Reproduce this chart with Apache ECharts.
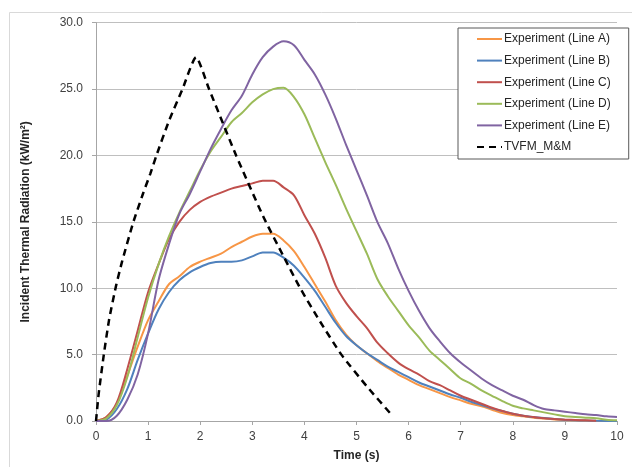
<!DOCTYPE html>
<html>
<head>
<meta charset="utf-8">
<script src="https://cdn.jsdelivr.net/npm/echarts@6/dist/echarts.min.js"></script>
<style>
html,body{margin:0;padding:0;background:#fff;}
#chart{width:632px;height:467px;}
</style>
</head>
<body>
<div id="chart"></div>
<script>
// Time samples (s) for experiment lines
const timeExp = [0,0.2,0.4,0.6,0.8,1.0,1.2,1.4,1.6,1.8,2.0,2.2,2.4,2.6,2.8,3.0,3.2,3.4,3.6,3.8,4.0,4.2,4.4,4.6,4.8,5.0,5.2,5.4,5.6,5.8,6.0,6.2,6.4,6.6,6.8,7.0,7.2,7.4,7.6,7.8,8.0,8.2,8.4,8.6,8.8,9.0,9.2,9.4,9.6,9.8,10.0];

const lineA = [0,0.3,1.3,3.4,5.6,7.6,9.0,10.3,10.9,11.6,12.0,12.3,12.6,13.1,13.5,13.9,14.1,14.1,13.6,12.8,11.6,10.3,9.0,7.6,6.5,5.7,5.1,4.5,4.0,3.5,3.1,2.7,2.4,2.1,1.8,1.55,1.3,1.1,0.85,0.6,0.45,0.35,0.25,0.18,0.12,0.08,0.05,0.02,0,0,0];
const lineB = [0,0.1,0.9,2.4,4.6,6.6,8.4,9.7,10.6,11.2,11.6,11.9,12.0,12.0,12.1,12.4,12.7,12.7,12.3,11.7,10.8,9.8,8.6,7.4,6.4,5.7,5.1,4.6,4.1,3.7,3.3,2.9,2.6,2.3,2.0,1.75,1.45,1.2,0.95,0.75,0.55,0.4,0.3,0.22,0.15,0.1,0.06,0.03,0.01,0,0];
const lineC = [0,0.3,1.4,3.9,6.8,9.7,11.8,13.7,15.0,15.9,16.5,16.9,17.2,17.5,17.7,17.9,18.1,18.1,17.6,17.0,15.5,14.1,12.3,10.2,8.9,7.9,7.0,5.9,5.1,4.4,3.9,3.5,3.0,2.7,2.3,1.9,1.6,1.3,1.0,0.75,0.55,0.4,0.3,0.2,0.15,0.1,0.08,0.05,0.02,null,null];
const lineD = [0,0.2,1.2,3.3,6.3,9.3,11.8,13.9,15.7,17.3,18.9,20.3,21.4,22.5,23.2,24.0,24.6,25.0,25.1,24.4,23.1,21.3,19.5,17.8,16.0,14.3,12.6,10.7,9.4,8.3,7.2,6.3,5.3,4.6,3.9,3.2,2.8,2.3,1.9,1.5,1.15,0.95,0.8,0.65,0.5,0.35,0.3,0.25,0.2,0.1,0.05];
const lineE = [0,0,0.4,1.6,3.5,6.6,10.6,13.3,15.6,17.1,18.8,20.5,22.0,23.4,24.5,26.1,27.4,28.2,28.6,28.3,27.2,26.1,24.6,22.8,20.8,18.9,17.0,15.0,13.4,11.5,9.8,8.3,7.0,6.0,5.1,4.4,3.8,3.2,2.7,2.3,1.9,1.6,1.2,0.9,0.8,0.7,0.6,0.5,0.45,0.35,0.3];

// TVFM_M&M model (dashed)
const timeModel = [0,0.05,0.15,0.25,0.38,0.5,0.71,0.9,1.04,1.16,1.4,1.66,1.92,2.17,2.69,3.21,3.6,3.92,4.3,4.71,5.2,5.7];
const model = [0,2,5,7.6,10.1,12.0,14.9,17.1,18.6,20,22.6,25,27.4,25,20,15.4,12.4,10,7.5,5,2.6,0.35];

const seriesNames = ['Experiment (Line A)','Experiment (Line B)','Experiment (Line C)','Experiment (Line D)','Experiment (Line E)','TVFM_M&M'];
const yTicks = [0,5,10,15,20,25,30];
const xTicks = [0,1,2,3,4,5,6,7,8,9,10];

function pairs(xs, ys){ return xs.map((x,i)=> ys[i]==null ? null : [x, ys[i]]).filter(p=>p); }

const colors = ['#F79646','#4F81BD','#C0504D','#9BBB59','#8064A2','#000000'];
const expData = [lineA, lineB, lineC, lineD, lineE];

const series = expData.map((d,i)=>({
  name: seriesNames[i], type:'line', data: pairs(timeExp, d),
  showSymbol:false, symbol:'none', smooth:0.3,
  lineStyle:{color:colors[i], width:2}, itemStyle:{color:colors[i]},
  z: 3
}));
series.push({
  name: seriesNames[5], type:'line', data: pairs(timeModel, model),
  showSymbol:false, symbol:'none', smooth:0.2,
  lineStyle:{color:'#000', width:2.5, type:[7,5]}, itemStyle:{color:'#000'},
  z: 4
});

const chart = echarts.init(document.getElementById('chart'));
chart.setOption({
  animation:false,
  backgroundColor:'#fff',
  textStyle:{fontFamily:'Liberation Sans, Arial, sans-serif'},
  graphic:[{type:'rect', shape:{x:9.5,y:12.5,width:700,height:600}, style:{fill:'none', stroke:'#d9d9d9', lineWidth:1}, z:-1}],
  grid:{left:96, right:15, top:22.7, bottom:39.3},
  legend:{
    orient:'vertical', left:458, top:28,
    padding:[5,18,6,18], itemGap:9.6, itemWidth:25, itemHeight:14,
    borderColor:'#595959', borderWidth:1, backgroundColor:'#fff',
    itemStyle:{opacity:0},
    textStyle:{fontSize:12, color:'#262626', padding:[0,0,0,-3]},
    data: seriesNames
  },
  xAxis:{
    type:'value', min:0, max:10, interval:1,
    name:'Time (s)', nameLocation:'middle', nameGap:29,
    nameTextStyle:{fontWeight:'bold', fontSize:12, color:'#262626'},
    axisLine:{show:true, lineStyle:{color:'#a6a6a6'}},
    axisTick:{show:true, length:4, lineStyle:{color:'#a6a6a6'}},
    axisLabel:{fontSize:12, color:'#404040', margin:10},
    splitLine:{show:false}
  },
  yAxis:{
    type:'value', min:0, max:30, interval:5,
    name:'Incident Thermal Radiation (kW/m²)', nameLocation:'middle', nameGap:64,
    nameTextStyle:{fontWeight:'bold', fontSize:12, color:'#262626'},
    axisLine:{show:true, lineStyle:{color:'#a6a6a6'}},
    axisTick:{show:true, length:4, lineStyle:{color:'#a6a6a6'}},
    axisLabel:{fontSize:12, color:'#404040', margin:13, formatter:v=>v.toFixed(1)},
    splitLine:{show:true, lineStyle:{color:'#bfbfbf', width:1}}
  },
  series: series
});
</script>
</body>
</html>
